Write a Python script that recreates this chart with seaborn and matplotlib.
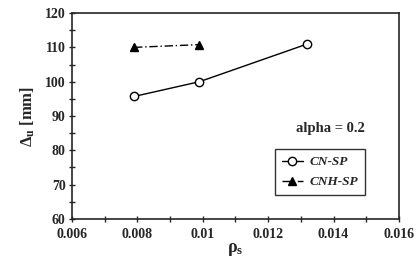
import numpy as np
import pandas as pd
import matplotlib
matplotlib.use("Agg")
import matplotlib.pyplot as plt
import seaborn as sns
from matplotlib.ticker import MultipleLocator
from matplotlib.lines import Line2D

# data
rho_cn = [0.0079, 0.0099, 0.0132]
delta_cn = [95.7, 100.0, 111.0]
rho_cnh = [0.0079, 0.0099]
delta_cnh = [110.0, 110.8]
series_names = ["CN-SP", "CNH-SP"]
x_ticks = [0.006, 0.008, 0.010, 0.012, 0.014, 0.016]
x_tick_labels = ["0.006", "0.008", "0.01", "0.012", "0.014", "0.016"]
y_ticks = [60, 70, 80, 90, 100, 110, 120]

df = pd.DataFrame({
    "rho": rho_cn + rho_cnh,
    "delta": delta_cn + delta_cnh,
    "series": [series_names[0]] * len(rho_cn) + [series_names[1]] * len(rho_cnh),
})

sns.set_style("ticks")
plt.rcParams["font.family"] = ["Liberation Serif", "DejaVu Serif"]
plt.rcParams["font.weight"] = "bold"
plt.rcParams["mathtext.fontset"] = "custom"
plt.rcParams["mathtext.rm"] = "Liberation Serif:bold"
plt.rcParams["mathtext.it"] = "Liberation Serif:bold"

fig = plt.figure(figsize=(4.16, 2.61), dpi=100)
ax = fig.add_axes([0.173, 0.161, 0.786, 0.789])

sns.lineplot(data=df, x="rho", y="delta", hue="series", style="series",
             markers={"CN-SP": "o", "CNH-SP": "^"},
             dashes={"CN-SP": "", "CNH-SP": (6, 2, 1, 2)},
             palette={"CN-SP": "black", "CNH-SP": "black"},
             markersize=6, linewidth=1.0, ax=ax, legend=False)
for line in ax.lines:
    line.set_markeredgecolor("black")
    line.set_markeredgewidth(1.0)
    if line.get_marker() == "o":
        line.set_markerfacecolor("white")

ax.set_xlim(0.006, 0.016)
ax.set_ylim(60, 120)
ax.set_xticks(x_ticks)
ax.set_xticklabels(x_tick_labels)
ax.set_yticks(y_ticks)
ax.xaxis.set_minor_locator(MultipleLocator(0.001))
ax.yaxis.set_minor_locator(MultipleLocator(5))
ax.tick_params(which="both", direction="inout", length=5, width=1.0,
               labelsize=10)
ax.tick_params(axis="x", pad=4)
ax.tick_params(axis="y", pad=2)
for lab in ax.get_xticklabels() + ax.get_yticklabels():
    lab.set_fontweight("bold")
for sp in ax.spines.values():
    sp.set_linewidth(1.2)

ax.set_xlabel(r"$\rho_s$", fontsize=13, labelpad=0)
ax.set_ylabel(r"$\Delta_u$ [mm]", fontsize=12, fontweight="bold", labelpad=6)

ax.text(0.0139, 86.5, "alpha = 0.2", fontsize=10.5, fontweight="bold",
        ha="center", va="center")

handles = [
    Line2D([], [], color="black", marker="o", markerfacecolor="white",
           markeredgecolor="black", markersize=6, linewidth=1.0),
    Line2D([], [], color="black", marker="^", markeredgecolor="black",
           markersize=6, linewidth=1.0, dashes=(6, 2, 1, 2)),
]
leg = ax.legend(handles, series_names, loc="lower right",
                bbox_to_anchor=(0.915, 0.085), fontsize=9.5, frameon=True,
                fancybox=False, edgecolor="black", handlelength=1.6,
                handletextpad=0.5, borderpad=0.5, labelspacing=0.6)
leg.get_frame().set_linewidth(1.0)
for t in leg.get_texts():
    t.set_fontweight("bold")
    t.set_fontstyle("italic")

fig.savefig("out.png", dpi=100)
